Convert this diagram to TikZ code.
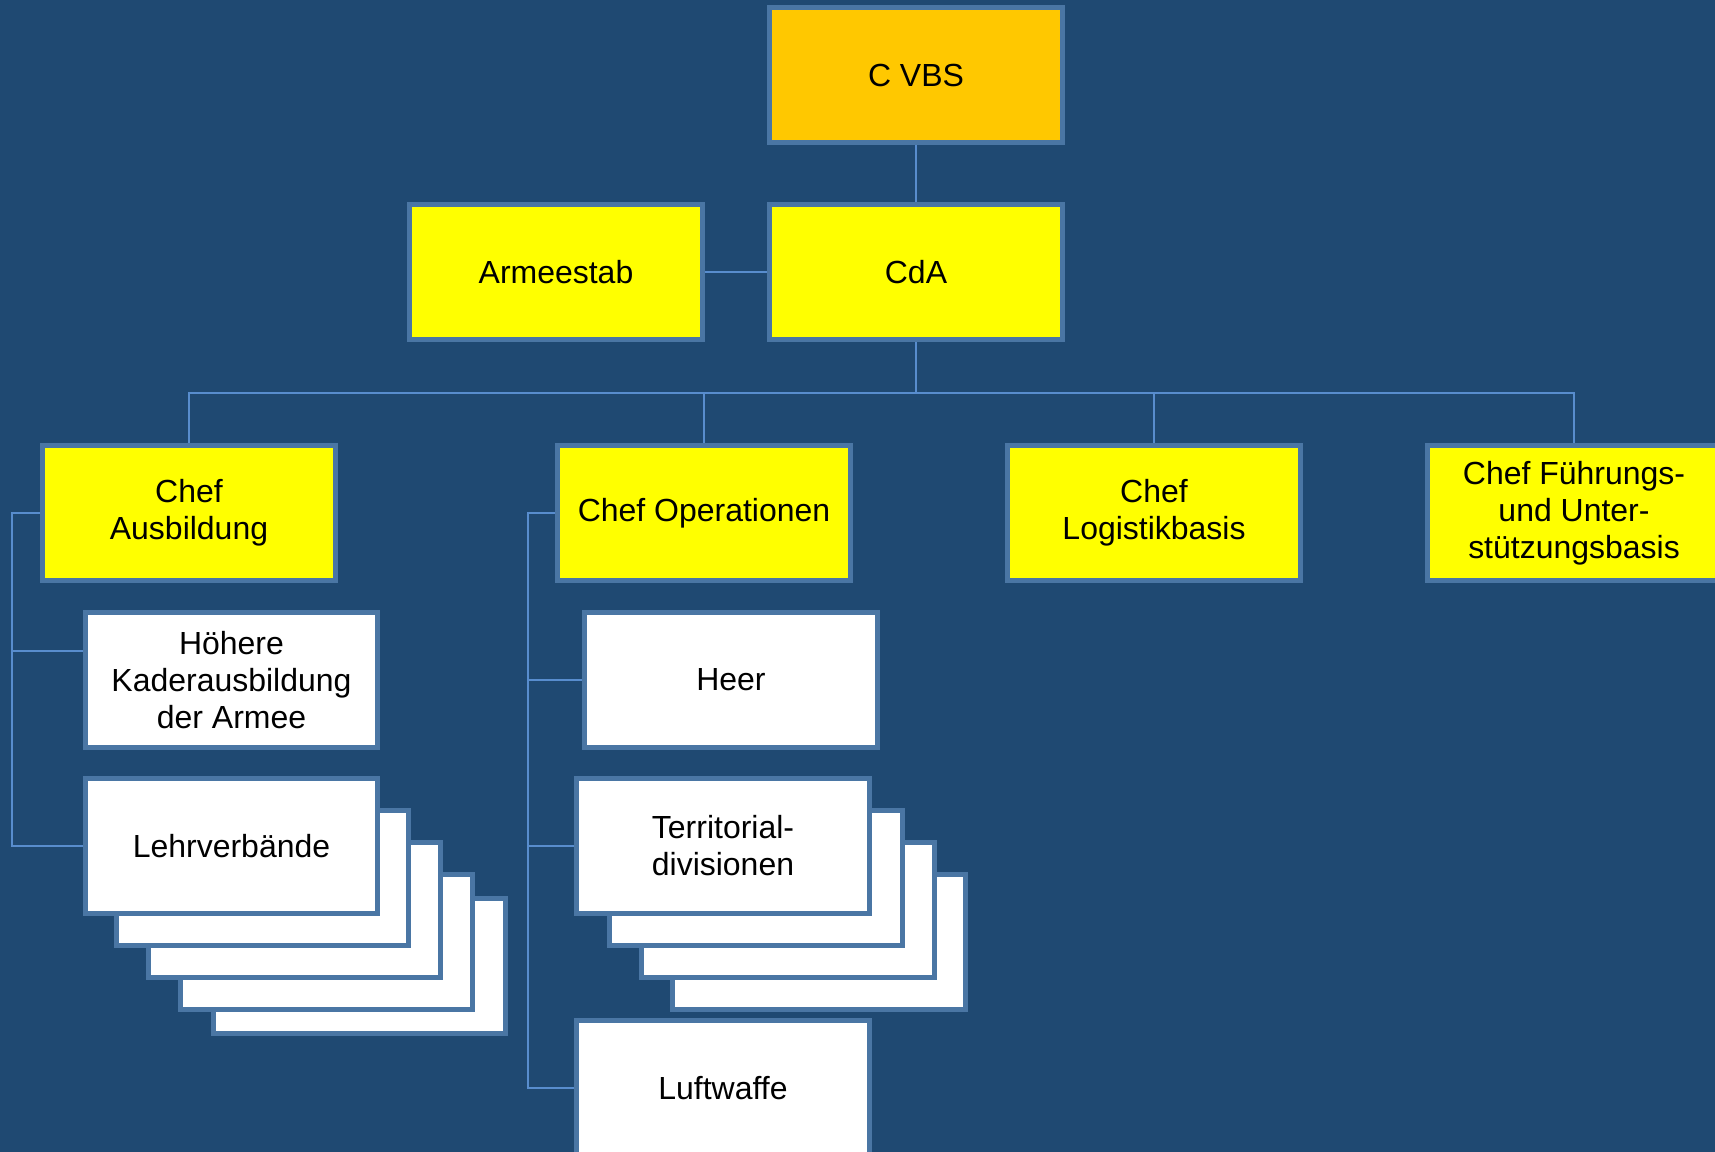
\documentclass[tikz,border=0pt]{standalone}
\usepackage{fontspec}
\setmainfont{Liberation Sans}
\usetikzlibrary{calc}
\definecolor{bgblue}{RGB}{31,73,114}
\definecolor{rimblue}{RGB}{74,118,164}
\definecolor{linkblue}{RGB}{88,141,206}
\definecolor{gold}{RGB}{255,200,0}
\definecolor{lemon}{RGB}{255,255,0}

\begin{document}
\begin{tikzpicture}[x=0.02cm,y=-0.02cm,
	box/.style={draw=rimblue,line width=0.1cm,minimum width=5.86cm,minimum height=2.7cm,inner sep=0pt,align=center,font=\fontsize{18.2}{21.1}\selectfont},
	chief/.style={box,fill=lemon},
	head/.style={box,fill=gold},
	unit/.style={box,fill=white},
	link/.style={linkblue,line width=0.04cm}]
		\fill[bgblue] (0,0) rectangle (1715,1152);
		\clip (0,0) rectangle (1715,1152);
		% top of the tree
		\node[head] (cvbs) at (916,75) {C VBS};
		\node[chief] (cda) at (916,272) {CdA};
		\node[chief] (armeestab) at (556,272) {Armeestab};
		\node[chief] (ausb) at (189,513) {Chef\\Ausbildung};
		\node[chief] (ops) at (704,513) {Chef Operationen};
		\node[chief] (log) at (1154,513) {Chef\\Logistikbasis};
		\node[chief] (fub) at (1574,513) {Chef Führungs-\\und Unter-\\stützungsbasis};
		% stacked boxes
		\coordinate (lvpos) at (231.5,846);
		\coordinate (terrpos) at (723,846);
		\foreach \dx/\dy [count=\i] in {128/120,95/96,63/64,31/32}
			\node[unit] (lvback\i) at ([shift={(\dx,\dy)}]lvpos) {};
		\foreach \dx/\dy [count=\i] in {96/96,65/64,33/32}
			\node[unit] (terrback\i) at ([shift={(\dx,\dy)}]terrpos) {};
		\node[unit] (hka) at (231.5,680) {Höhere\\Kaderausbildung\\der Armee};
		\node[unit] (lv) at (lvpos) {Lehrverbände};
		\node[unit] (heer) at (731,680) {Heer};
		\node[unit] (terr) at (terrpos) {Territorial-\\divisionen};
		\node[unit] (luft) at (723,1088) {Luftwaffe};
		% connectors
		\coordinate (bus) at (916,393);
		\coordinate (ausbrail) at (12,513);
		\coordinate (opsrail) at (528,513);
		\draw[link] (cvbs.south) -- (cda.north);
		\draw[link] (armeestab.east) -- (cda.west);
		\foreach \c in {ausb,ops,log,fub}
			\draw[link] (cda.south) |- (bus) -| (\c.north);
		\draw[link] (ausb.west) -- (ausbrail) |- ($(hka.north west)!0.29!(hka.south west)$);
		\draw[link] (ausbrail) |- (lv.west);
		\foreach \c in {heer,terr,luft}
			\draw[link] (ops.west) -- (opsrail) |- (\c.west);
\end{tikzpicture}
\end{document}
